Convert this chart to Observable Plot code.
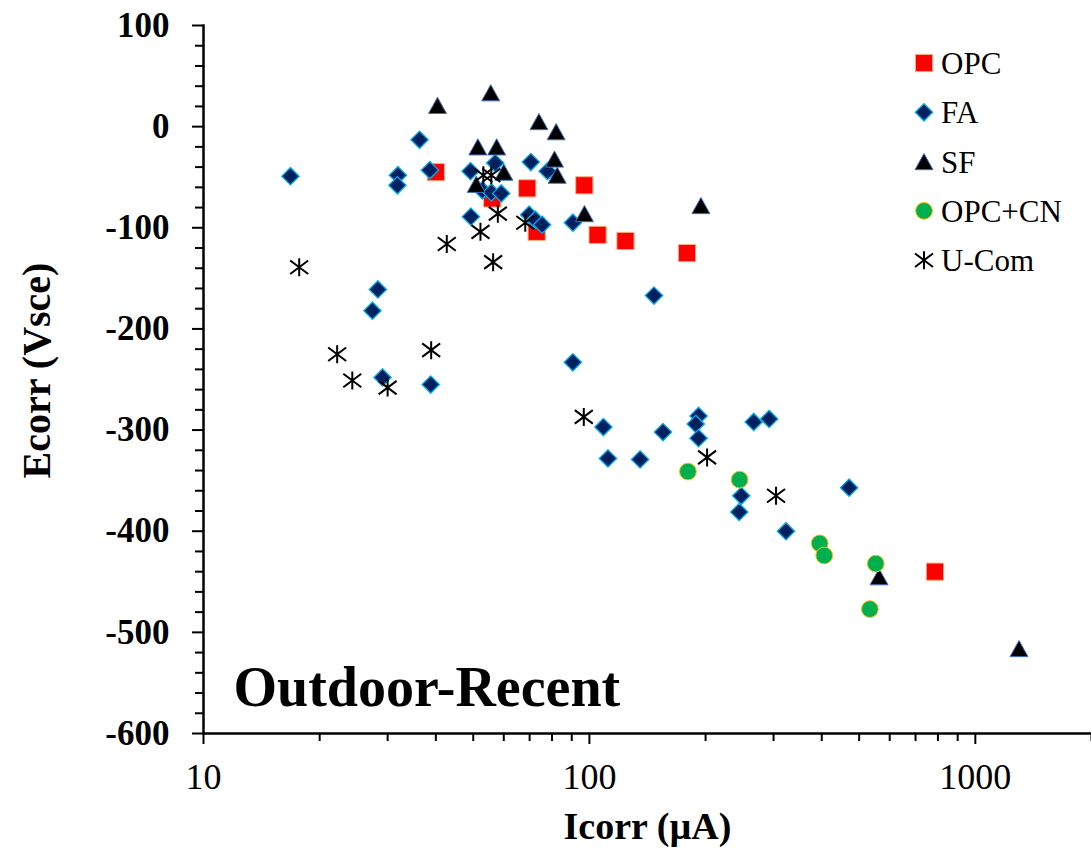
<!DOCTYPE html>
<html><head><meta charset="utf-8">
<script src="https://cdn.jsdelivr.net/npm/d3@7"></script>
<script src="https://cdn.jsdelivr.net/npm/@observablehq/plot@0.6"></script>
<style>
body{margin:0;background:#fff;}
#chart{width:1091px;height:850px;}
svg text{fill:#000;}
</style></head><body><div id="chart"></div>
<script>
// ---- data (Icorr in µA, Ecorr in mV vs SCE) ----
const seriesNames = ["OPC", "FA", "SF", "OPC+CN", "U-Com"];

const opcIcorr = [40, 69, 97, 73, 105, 124, 179, 786, 56];
const opcEcorr = [-45, -61, -58, -104, -107, -113, -125, -440, -71];

const faIcorr = [16.8, 31.9, 31.8, 36.3, 38.6, 49.2, 57.0, 52.8, 55.7, 59.1, 49.3, 70.5, 77.9, 69.8, 72.4, 75.4, 90.6, 28.3, 27.4, 29.1, 38.8, 90.6, 108.7, 147, 111.7, 135.3, 155.1, 191.8, 188.6, 191.8, 266.5, 292.3, 247.4, 244.4, 323.1, 470.9];
const faEcorr = [-49, -48, -58, -13, -43, -44, -36, -63, -65, -66, -89, -35, -44, -87, -92, -97, -95, -161, -182, -248, -255, -233, -297, -167, -328, -329, -302, -286, -294, -308, -292, -289, -365, -381, -400, -357];

const sfIcorr = [40.4, 55.5, 74.0, 82.0, 51.4, 57.5, 81.2, 82.5, 60.0, 50.9, 97.1, 194.5, 563, 1298];
const sfEcorr = [21, 33.5, 5, -5, -20, -20, -32, -48, -45, -57, -86, -78, -445, -516];

const cnIcorr = [180, 245, 395, 406, 552, 533];
const cnEcorr = [-341, -349, -412, -424, -432, -477];

const ucIcorr = [17.7, 53.1, 55.7, 57.9, 52.2, 42.7, 56.3, 68.2, 22.2, 24.3, 30.0, 38.9, 96.7, 201.8, 304.5];
const ucEcorr = [-139, -48, -48, -86, -104, -116, -134, -95, -225, -251, -258, -221, -287, -327, -365];

const yMajorTicks = [100, 0, -100, -200, -300, -400, -500, -600];
const xMajorTicks = [10, 100, 1000];
const xMinorTicks = [20, 30, 40, 50, 60, 70, 80, 90, 200, 300, 400, 500, 600, 700, 800, 900, 2000];
const yMinorTicks = d3.range(-600, 101, 20).filter(v => v % 100 !== 0);

const xTitle = "Icorr (µA)";
const yTitle = "Ecorr (Vsce)";
const panelTitle = "Outdoor-Recent";

// ---- symbols ----
function mkSym(fn) { return {draw(ctx, size) { fn(ctx, Math.sqrt(size / Math.PI)); }}; }
const symSquare = mkSym((c, r) => { c.moveTo(-r, -r); c.lineTo(r, -r); c.lineTo(r, r); c.lineTo(-r, r); c.closePath(); });
const symDiamond = mkSym((c, r) => { c.moveTo(0, -r); c.lineTo(r, 0); c.lineTo(0, r); c.lineTo(-r, 0); c.closePath(); });
const symTri = mkSym((c, r) => { c.moveTo(0, -0.9 * r); c.lineTo(r, 0.9 * r); c.lineTo(-r, 0.9 * r); c.closePath(); });
const symAst = mkSym((c, r) => { c.moveTo(0, -r); c.lineTo(0, r); c.moveTo(-r, -0.75 * r); c.lineTo(r, 0.75 * r); c.moveTo(-r, 0.75 * r); c.lineTo(r, -0.75 * r); });
const symCircle = mkSym((c, r) => { c.moveTo(r, 0); c.arc(0, 0, r, 0, 2 * Math.PI); c.closePath(); });

const styles = [
  {symbol: symSquare, r: 8.6, fill: "#ff0000", stroke: "#f4b183", strokeWidth: 1},
  {symbol: symDiamond, r: 8.7, fill: "#002060", stroke: "#00b0f0", strokeWidth: 1.3},
  {symbol: symTri, r: 9, fill: "#000000", stroke: "#4472c4", strokeWidth: 1},
  {symbol: symCircle, r: 8.4, fill: "#00b050", stroke: "#ffc000", strokeWidth: 1},
  {symbol: symAst, r: 9, fill: "none", stroke: "#000000", strokeWidth: 2}
];
const seriesData = [[opcIcorr, opcEcorr], [faIcorr, faEcorr], [sfIcorr, sfEcorr], [cnIcorr, cnEcorr], [ucIcorr, ucEcorr]];

const serif = "'Liberation Serif', 'Times New Roman', serif";

const dotMarks = seriesData.map(([xs, ys], k) =>
  Plot.dot(xs.map((x, i) => ({icorr: x, ecorr: ys[i], series: seriesNames[k]})),
    {x: "icorr", y: "ecorr", ...styles[k]}));

const plot = Plot.plot({
  width: 1091, height: 850,
  marginLeft: 203, marginRight: 0, marginTop: 25, marginBottom: 117,
  style: {fontFamily: serif, background: "#fff"},
  x: {type: "log", domain: [10, 2000], label: null},
  y: {domain: [-600, 100], label: null},
  marks: [
    Plot.axisY({ticks: yMinorTicks, tickSize: 8, strokeWidth: 2, tickFormat: () => "", label: null}),
    Plot.axisY({ticks: yMajorTicks, tickSize: 11, tickPadding: 23, strokeWidth: 2, tickFormat: d => String(d),
      fontSize: 35, fontWeight: "bold", fontFamily: serif, label: null}),
    Plot.axisX({ticks: xMinorTicks, tickSize: 8, strokeWidth: 2, tickFormat: () => "", label: null}),
    Plot.axisX({ticks: xMajorTicks, tickSize: 11, tickPadding: 19, strokeWidth: 2, tickFormat: d => String(d),
      fontSize: 36, fontFamily: serif, label: null}),
    Plot.frame({anchor: "left", strokeWidth: 2.5}),
    Plot.frame({anchor: "bottom", strokeWidth: 2.5}),
    ...dotMarks,
    Plot.text([yTitle], {frameAnchor: "left", textAnchor: "middle", lineAnchor: "middle", rotate: -90, dx: -166, dy: -9, fontSize: 40, fontWeight: "bold", fontFamily: serif}),
    Plot.text([xTitle], {frameAnchor: "bottom", textAnchor: "middle", lineAnchor: "bottom", dy: 105, fontSize: 38, fontWeight: "bold", fontFamily: serif}),
    Plot.text([panelTitle], {frameAnchor: "bottom-left", textAnchor: "start", lineAnchor: "bottom", dx: 30, dy: -28, fontSize: 56, fontWeight: "bold", fontFamily: serif})
  ]
});

// ---- legend (inside plot, top right) ----
const svg = d3.select(plot);
const lg = svg.append("g").attr("aria-label", "legend").attr("text-anchor", "start");
seriesNames.forEach((name, k) => {
  const cy = 63 + k * 49.3;
  const st = styles[k];
  lg.append("path")
    .attr("transform", `translate(924,${cy})`)
    .attr("d", d3.symbol(st.symbol, st.r * st.r * Math.PI)())
    .attr("fill", st.fill).attr("stroke", st.stroke).attr("stroke-width", st.strokeWidth);
  lg.append("text")
    .attr("x", 941).attr("y", cy + 11)
    .attr("text-anchor", "start")
    .attr("font-family", serif).attr("font-size", 31)
    .text(name);
});

document.getElementById("chart").appendChild(plot);
</script>
</body></html>
